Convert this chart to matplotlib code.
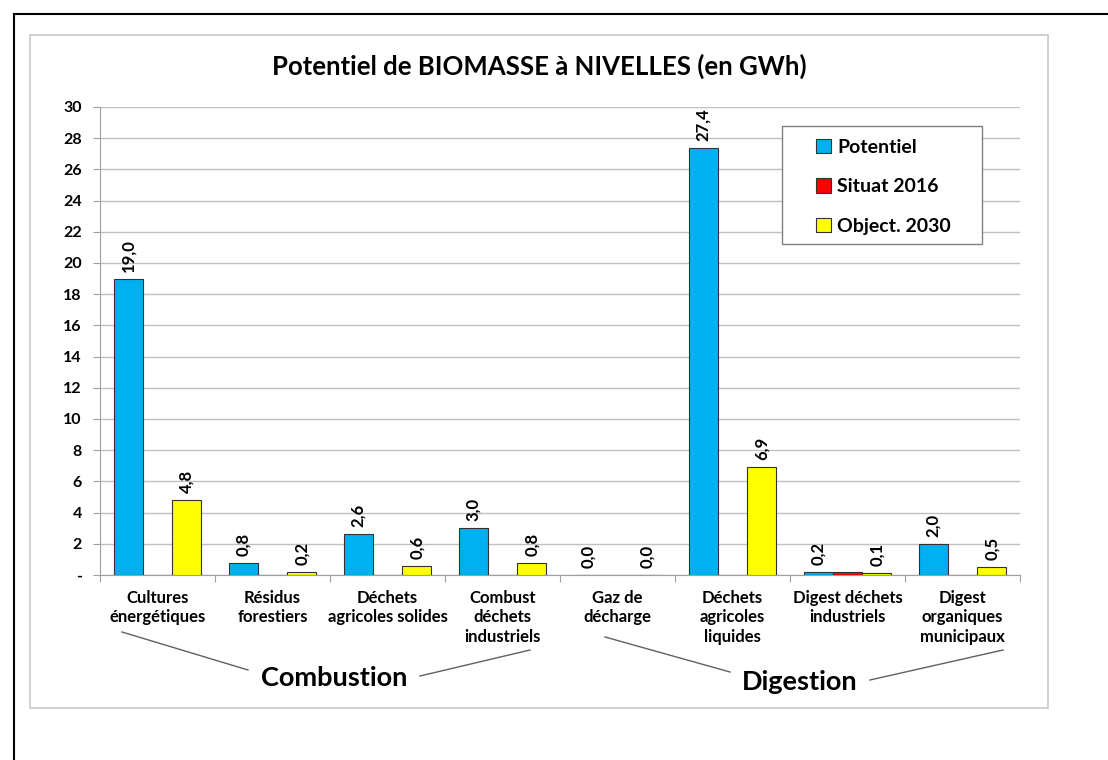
import matplotlib.pyplot as plt
from matplotlib.patches import Rectangle
from matplotlib.lines import Line2D
from matplotlib.ticker import FuncFormatter, MultipleLocator
import numpy as np

plt.rcParams['font.family'] = ['Lato', 'DejaVu Sans']

# Données
categories = ['Cultures\nénergétiques', 'Résidus\nforestiers', 'Déchets\nagricoles solides',
              'Combust\ndéchets\nindustriels', 'Gaz de\ndécharge', 'Déchets\nagricoles\nliquides',
              'Digest déchets\nindustriels', 'Digest\norganiques\nmunicipaux']
potentiel = [19.0, 0.8, 2.6, 3.0, 0.0, 27.4, 0.2, 2.0]
situat_2016 = [0.0, 0.0, 0.0, 0.0, 0.0, 0.0, 0.2, 0.0]
object_2030 = [4.8, 0.2, 0.6, 0.8, 0.0, 6.9, 0.1, 0.5]
groupes = ['Combustion', 'Digestion']

W, H = 1108, 760
fig = plt.figure(figsize=(W / 100, H / 100), dpi=100)

def fx(px):
    return px / W

def fy(py):
    return 1 - py / H

# cadres
fig.add_artist(Rectangle((fx(14), fy(775)), fx(1110), 761 / H, transform=fig.transFigure,
                         fill=False, edgecolor='black', linewidth=1.5))
fig.add_artist(Rectangle((fx(30), fy(708)), fx(1018), 673 / H, transform=fig.transFigure,
                         fill=False, edgecolor='#c8c8c8', linewidth=1.2))

ax = fig.add_axes([fx(100), fy(575), fx(920), 468 / H])
x = np.arange(len(categories)) + 0.5
w = 0.255
series = [(potentiel, '#00b0f0', 'Potentiel', -w),
          (situat_2016, '#ff0000', 'Situat 2016', 0),
          (object_2030, '#ffff00', 'Object. 2030', w)]
for vals, col, lab, off in series:
    bars = ax.bar(x + off, vals, width=w, color=col, edgecolor='#333333', linewidth=0.8,
                  label=lab, zorder=3)
    if lab == 'Situat 2016':
        continue
    for b, v in zip(bars, vals):
        ax.annotate(f'{v:.1f}'.replace('.', ','), (b.get_x() + b.get_width() / 2, v),
                    xytext=(0, 5), textcoords='offset points', rotation=90,
                    ha='center', va='bottom', fontsize=12, fontweight='bold')

ax.set_xlim(0, len(categories))
ax.set_ylim(0, 30)
ax.yaxis.set_major_locator(MultipleLocator(2))
ax.yaxis.set_major_formatter(FuncFormatter(lambda v, p: '-' if v == 0 else f'{v:.0f}'))
ax.set_xticks(np.arange(len(categories) + 1))
ax.set_xticklabels([])
ax.tick_params(axis='x', length=5, color='#a0a0a0')
ax.tick_params(axis='y', length=5, color='#a0a0a0', labelsize=11.5, pad=8)
for t in ax.get_yticklabels():
    t.set_fontweight('bold')
ax.grid(axis='y', color='#c0c0c0', linewidth=1, zorder=0)
for s in ['top', 'right']:
    ax.spines[s].set_visible(False)
for s in ['left', 'bottom']:
    ax.spines[s].set_color('#a0a0a0')

for xi, lab in zip(x, categories):
    ax.text(xi, -0.031, lab, transform=ax.get_xaxis_transform(), ha='center', va='top',
            fontsize=12, fontweight='bold', linespacing=1.3)

fig.text(fx(539), fy(66), 'Potentiel de BIOMASSE à NIVELLES (en GWh)', ha='center', va='center',
         fontsize=18.5, fontweight='bold')

# groupes
fig.text(fx(334), fy(678), groupes[0], ha='center', va='center', fontsize=19.5, fontweight='bold')
fig.text(fx(800), fy(682), groupes[1], ha='center', va='center', fontsize=19.5, fontweight='bold')
for (x0, y0, x1, y1) in [(122, 632, 248, 670), (420, 676, 530, 650),
                         (605, 637, 730, 672), (870, 680, 1003, 650)]:
    fig.add_artist(Line2D([fx(x0), fx(x1)], [fy(y0), fy(y1)], transform=fig.transFigure,
                          color='#606060', linewidth=1))

# légende
fig.add_artist(Rectangle((fx(782), fy(244)), fx(200), 118 / H, transform=fig.transFigure,
                         fill=True, facecolor='white', edgecolor='#808080', linewidth=1, zorder=4))
leg = ax.legend(loc='upper left', bbox_to_anchor=(fx(816), fy(139)), bbox_transform=fig.transFigure,
                frameon=False, handlelength=0.75, handleheight=0.75, handletextpad=0.35,
                labelspacing=1.15, borderpad=0, prop={'size': 14, 'weight': 'bold'},
                borderaxespad=0)
leg.set_zorder(5)
leg.remove()
fig.add_artist(leg)

fig.savefig('out.png', dpi=100)
